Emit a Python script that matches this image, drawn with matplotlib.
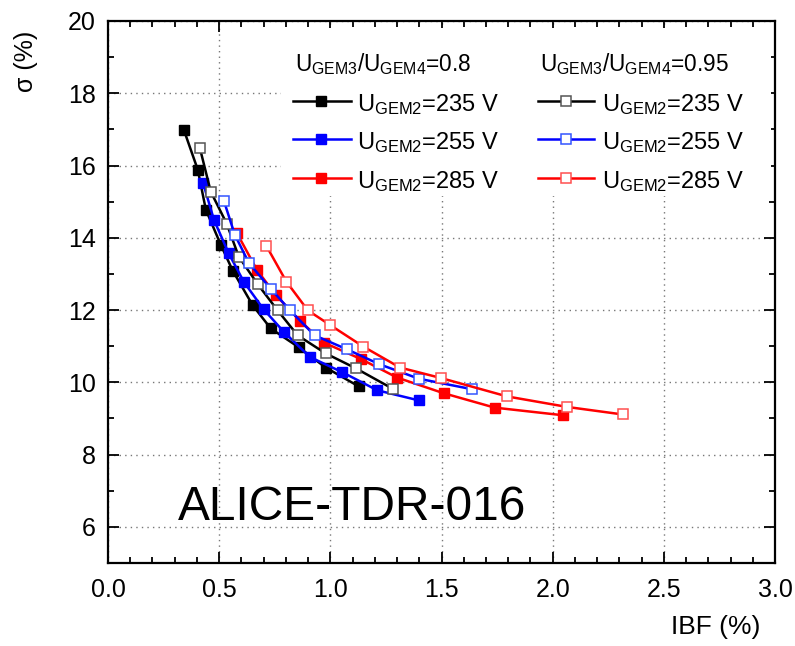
import matplotlib
matplotlib.use("Agg")
import matplotlib.pyplot as plt
from matplotlib.lines import Line2D
from matplotlib.patches import Rectangle
from matplotlib.ticker import MultipleLocator, FormatStrFormatter

plt.rcParams['font.family'] = ['Liberation Sans', 'DejaVu Sans']
plt.rcParams['mathtext.fontset'] = 'custom'
plt.rcParams['mathtext.rm'] = 'Liberation Sans'
plt.rcParams['mathtext.it'] = 'Liberation Sans'

# ---- data (IBF %, sigma %) ----
ibf_08_235 = [0.341, 0.404, 0.440, 0.507, 0.561, 0.651, 0.732, 0.858, 0.979, 1.127]
sig_08_235 = [16.99, 15.88, 14.78, 13.81, 13.09, 12.13, 11.49, 10.97, 10.41, 9.89]
ibf_08_255 = [0.428, 0.477, 0.542, 0.612, 0.700, 0.792, 0.908, 1.054, 1.211, 1.398]
sig_08_255 = [15.51, 14.49, 13.58, 12.77, 12.02, 11.39, 10.70, 10.28, 9.78, 9.50]
ibf_08_285 = [0.579, 0.669, 0.754, 0.862, 0.971, 1.139, 1.301, 1.509, 1.739, 2.045]
sig_08_285 = [14.14, 13.12, 12.42, 11.71, 11.10, 10.64, 10.13, 9.70, 9.30, 9.09]
ibf_095_235 = [0.413, 0.462, 0.534, 0.588, 0.674, 0.763, 0.853, 0.979, 1.114, 1.284]
sig_095_235 = [16.49, 15.28, 14.39, 13.48, 12.71, 11.99, 11.30, 10.80, 10.39, 9.81]
ibf_095_255 = [0.522, 0.570, 0.634, 0.732, 0.819, 0.929, 1.076, 1.221, 1.398, 1.637]
sig_095_255 = [15.01, 14.09, 13.30, 12.59, 11.99, 11.30, 10.91, 10.50, 10.10, 9.81]
ibf_095_285 = [0.712, 0.802, 0.899, 0.998, 1.148, 1.313, 1.497, 1.795, 2.064, 2.316]
sig_095_285 = [13.78, 12.79, 11.99, 11.59, 10.99, 10.41, 10.12, 9.61, 9.32, 9.11]

voltages = ['235', '255', '285']
colors = ['black', '#0000ff', '#ff0000']
open_edges = ['#555555', '#3355ff', '#ff5050']
filled = [(ibf_08_235, sig_08_235), (ibf_08_255, sig_08_255), (ibf_08_285, sig_08_285)]
opened = [(ibf_095_235, sig_095_235), (ibf_095_255, sig_095_255), (ibf_095_285, sig_095_285)]

fig = plt.figure(figsize=(7.95, 6.46), dpi=100)
ax = fig.add_axes([108/795, 1 - 563/646, 667/795, 542/646])

ax.set_xlim(0, 3.0)
ax.set_ylim(5, 20)
ax.xaxis.set_major_locator(MultipleLocator(0.5))
ax.xaxis.set_minor_locator(MultipleLocator(0.1))
ax.yaxis.set_minor_locator(MultipleLocator(1))
ax.set_yticks([6, 8, 10, 12, 14, 16, 18, 20])
ax.xaxis.set_major_formatter(FormatStrFormatter('%.1f'))
ax.tick_params(which='both', direction='in', top=True, right=True, labelsize=18, width=1.3)
ax.tick_params(which='major', length=8)
ax.tick_params(which='minor', length=4.5)
ax.tick_params(axis='y', which='major', pad=9)
ax.tick_params(axis='x', which='major', pad=11)
for s in ax.spines.values():
    s.set_linewidth(1.6)

ax.grid(True, which='major', color='#777777', linestyle=(0, (1, 3)), linewidth=1.0, zorder=0)
ax.set_axisbelow(True)

# filled (0.8) and open (0.95) series
for (x, y), c in zip(filled, colors):
    ax.plot(x, y, '-s', color=c, lw=1.8, ms=7, mfc=c, mec=c, zorder=3)
for (x, y), c, ec in zip(opened, colors, open_edges):
    ax.plot(x, y, '-s', color=c, lw=1.8, ms=7, mfc='white', mec=ec, mew=1.1, zorder=3)

# white legend background
ax.add_patch(Rectangle((0.259, 0.678), 0.735, 0.31, transform=ax.transAxes,
                       facecolor='white', edgecolor='none', zorder=1.5))

fs = 17
ax.text(0.281, 0.908, r'U$_{\mathrm{GEM3}}$/U$_{\mathrm{GEM4}}$=0.8', transform=ax.transAxes,
        fontsize=16.3, va='baseline', ha='left', zorder=4)
ax.text(0.648, 0.908, r'U$_{\mathrm{GEM3}}$/U$_{\mathrm{GEM4}}$=0.95', transform=ax.transAxes,
        fontsize=16.3, va='baseline', ha='left', zorder=4)
line_y = [0.853, 0.783, 0.711]
base_y = [0.834, 0.764, 0.692]
for i, (v, c, ec) in enumerate(zip(voltages, colors, open_edges)):
    ax.add_line(Line2D([0.278, 0.364], [line_y[i]] * 2, transform=ax.transAxes, color=c, lw=1.8, zorder=4))
    ax.add_line(Line2D([0.320], [line_y[i]], transform=ax.transAxes, marker='s', ms=7, color=c, zorder=5))
    ax.text(0.374, base_y[i], r'U$_{\mathrm{GEM2}}$=' + v + ' V', transform=ax.transAxes,
            fontsize=fs, va='baseline', ha='left', zorder=4)
    ax.add_line(Line2D([0.644, 0.728], [line_y[i]] * 2, transform=ax.transAxes, color=c, lw=1.8, zorder=4))
    ax.add_line(Line2D([0.686], [line_y[i]], transform=ax.transAxes, marker='s', ms=7, mfc='white',
                       mec=ec, mew=1.1, color=c, zorder=5))
    ax.text(0.741, base_y[i], r'U$_{\mathrm{GEM2}}$=' + v + ' V', transform=ax.transAxes,
            fontsize=fs, va='baseline', ha='left', zorder=4)

ax.text(0.105, 0.079, 'ALICE-TDR-016', transform=ax.transAxes, fontsize=34.5, ha='left', va='baseline', zorder=4)

fig.text(0.957, 0.029, 'IBF (%)', fontsize=19, ha='right', va='center')
fig.text(0.033, 0.905, 'σ (%)', fontsize=18, ha='center', va='center', rotation=90)

fig.savefig('out.png', dpi=100)
